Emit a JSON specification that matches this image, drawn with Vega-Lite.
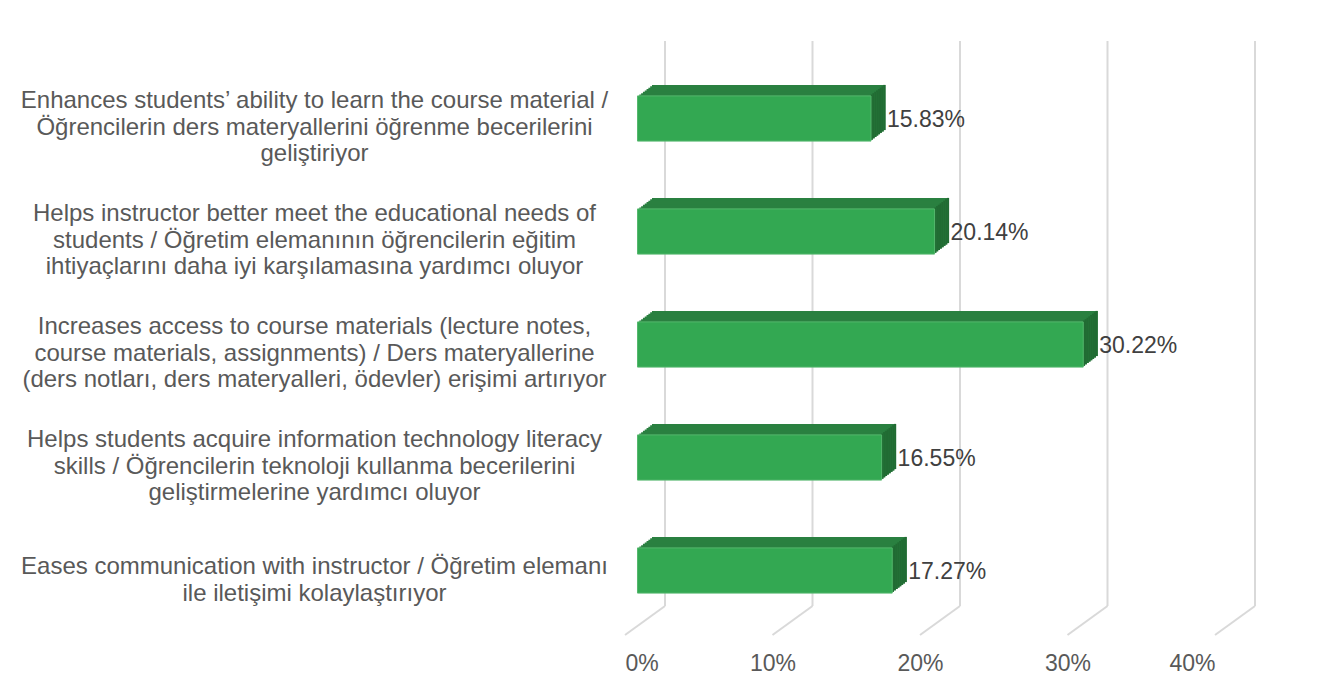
{
  "$schema": "https://vega.github.io/schema/vega-lite/v6.json",
  "width": 590,
  "height": 565,
  "padding": {"left": 19, "top": 40, "right": 20, "bottom": 15},
  "background": "white",
  "config": {"view": {"stroke": null}, "font": "Liberation Sans"},
  "data": {"values": [
    {"c": "Enhances students’ ability to learn the course material /\nÖğrencilerin ders materyallerini öğrenme becerilerini\ngeliştiriyor", "v": 0.1583},
    {"c": "Helps instructor better meet the educational needs of\nstudents / Öğretim elemanının öğrencilerin eğitim\nihtiyaçlarını daha iyi karşılamasına yardımcı oluyor", "v": 0.2014},
    {"c": "Increases access to course materials (lecture notes,\ncourse materials, assignments) / Ders materyallerine\n(ders notları, ders materyalleri, ödevler) erişimi artırıyor", "v": 0.3022},
    {"c": "Helps students acquire information technology literacy\nskills / Öğrencilerin teknoloji kullanma becerilerini\ngeliştirmelerine yardımcı oluyor", "v": 0.1655},
    {"c": "Eases communication with instructor / Öğretim elemanı\nile iletişimi kolaylaştırıyor", "v": 0.1727}
  ]},
  "encoding": {
    "x": {"field": "v", "type": "quantitative", "scale": {"domain": [0, 0.4], "nice": false},
      "axis": {"values": [0, 0.1, 0.2, 0.3, 0.4], "format": "%", "grid": false, "ticks": false, "tickSize": 0, "domain": false,
        "labelFontSize": 23, "labelColor": "#595959", "labelFont": "Liberation Sans", "labelPadding": 17, "title": null}},
    "y": {"field": "c", "type": "nominal", "sort": null, "scale": {"paddingInner": 0.6, "paddingOuter": 0.3},
      "axis": {"title": null, "domain": false, "ticks": false, "tickSize": 0, "labelAlign": "center", "labelBaseline": "middle",
        "labelOffset": {"condition": {"test": "length(split(datum.value, '\\n')) < 3", "value": -11.5}, "value": -25.5},
        "labelPadding": 311, "labelLimit": 0, "labelFontSize": 24, "labelLineHeight": 26.5, "labelColor": "#595959",
        "labelFont": "Liberation Sans", "labelExpr": "split(datum.label, '\\n')"}}
  },
  "layer": [
    {"data": {"values": [{"v": 0}, {"v": 0.1}, {"v": 0.2}, {"v": 0.3}, {"v": 0.4}]},
     "mark": {"type": "rule", "color": "#d9d9d9", "strokeWidth": 2, "xOffset": 40, "yOffset": -29, "y2Offset": -29},
     "encoding": {"y": {"value": 0}, "y2": {"value": "height"}}},
    {"data": {"values": [{"v": 0}, {"v": 0.1}, {"v": 0.2}, {"v": 0.3}, {"v": 0.4}]},
     "mark": {"type": "rule", "color": "#d9d9d9", "strokeWidth": 2, "xOffset": 40, "x2Offset": 0, "yOffset": -29, "y2Offset": 0},
     "encoding": {"x2": {"field": "v"}, "y": {"value": "height"}, "y2": {"value": "height"}}},

    {"mark": {"type": "bar", "color": "#2a8040", "xOffset": 27, "x2Offset": 27, "yOffset": -19, "y2Offset": -19}},
    {"mark": {"type": "bar", "color": "#216b33", "xOffset": 24.8, "x2Offset": 27, "yOffset": -19, "y2Offset": -19}, "encoding": {"x2": {"field": "v"}}},
    {"mark": {"type": "bar", "color": "#2a8040", "xOffset": 25.19, "x2Offset": 25.19, "yOffset": -17.63, "y2Offset": -17.63}},
    {"mark": {"type": "bar", "color": "#216b33", "xOffset": 22.99, "x2Offset": 25.19, "yOffset": -17.63, "y2Offset": -17.63}, "encoding": {"x2": {"field": "v"}}},
    {"mark": {"type": "bar", "color": "#2a8040", "xOffset": 23.38, "x2Offset": 23.38, "yOffset": -16.25, "y2Offset": -16.25}},
    {"mark": {"type": "bar", "color": "#216b33", "xOffset": 21.18, "x2Offset": 23.38, "yOffset": -16.25, "y2Offset": -16.25}, "encoding": {"x2": {"field": "v"}}},
    {"mark": {"type": "bar", "color": "#2a8040", "xOffset": 21.56, "x2Offset": 21.56, "yOffset": -14.88, "y2Offset": -14.88}},
    {"mark": {"type": "bar", "color": "#216b33", "xOffset": 19.36, "x2Offset": 21.56, "yOffset": -14.88, "y2Offset": -14.88}, "encoding": {"x2": {"field": "v"}}},
    {"mark": {"type": "bar", "color": "#2a8040", "xOffset": 19.75, "x2Offset": 19.75, "yOffset": -13.5, "y2Offset": -13.5}},
    {"mark": {"type": "bar", "color": "#216b33", "xOffset": 17.55, "x2Offset": 19.75, "yOffset": -13.5, "y2Offset": -13.5}, "encoding": {"x2": {"field": "v"}}},
    {"mark": {"type": "bar", "color": "#2a8040", "xOffset": 17.94, "x2Offset": 17.94, "yOffset": -12.13, "y2Offset": -12.13}},
    {"mark": {"type": "bar", "color": "#216b33", "xOffset": 15.74, "x2Offset": 17.94, "yOffset": -12.13, "y2Offset": -12.13}, "encoding": {"x2": {"field": "v"}}},
    {"mark": {"type": "bar", "color": "#2a8040", "xOffset": 16.13, "x2Offset": 16.13, "yOffset": -10.75, "y2Offset": -10.75}},
    {"mark": {"type": "bar", "color": "#216b33", "xOffset": 13.93, "x2Offset": 16.13, "yOffset": -10.75, "y2Offset": -10.75}, "encoding": {"x2": {"field": "v"}}},
    {"mark": {"type": "bar", "color": "#2a8040", "xOffset": 14.31, "x2Offset": 14.31, "yOffset": -9.38, "y2Offset": -9.38}},
    {"mark": {"type": "bar", "color": "#216b33", "xOffset": 12.11, "x2Offset": 14.31, "yOffset": -9.38, "y2Offset": -9.38}, "encoding": {"x2": {"field": "v"}}},

    {"mark": {"type": "bar", "color": "#33a852", "stroke": "#55b86d", "strokeWidth": 1, "xOffset": 12.5, "x2Offset": 12.5, "yOffset": -8, "y2Offset": -8}},
    {"mark": {"type": "text", "align": "left", "baseline": "middle", "xOffset": 28.5, "yOffset": -7, "fontSize": 23, "font": "Liberation Sans", "color": "#404040"},
     "encoding": {"text": {"field": "v", "type": "quantitative", "format": ".2%"}}}
  ]
}
